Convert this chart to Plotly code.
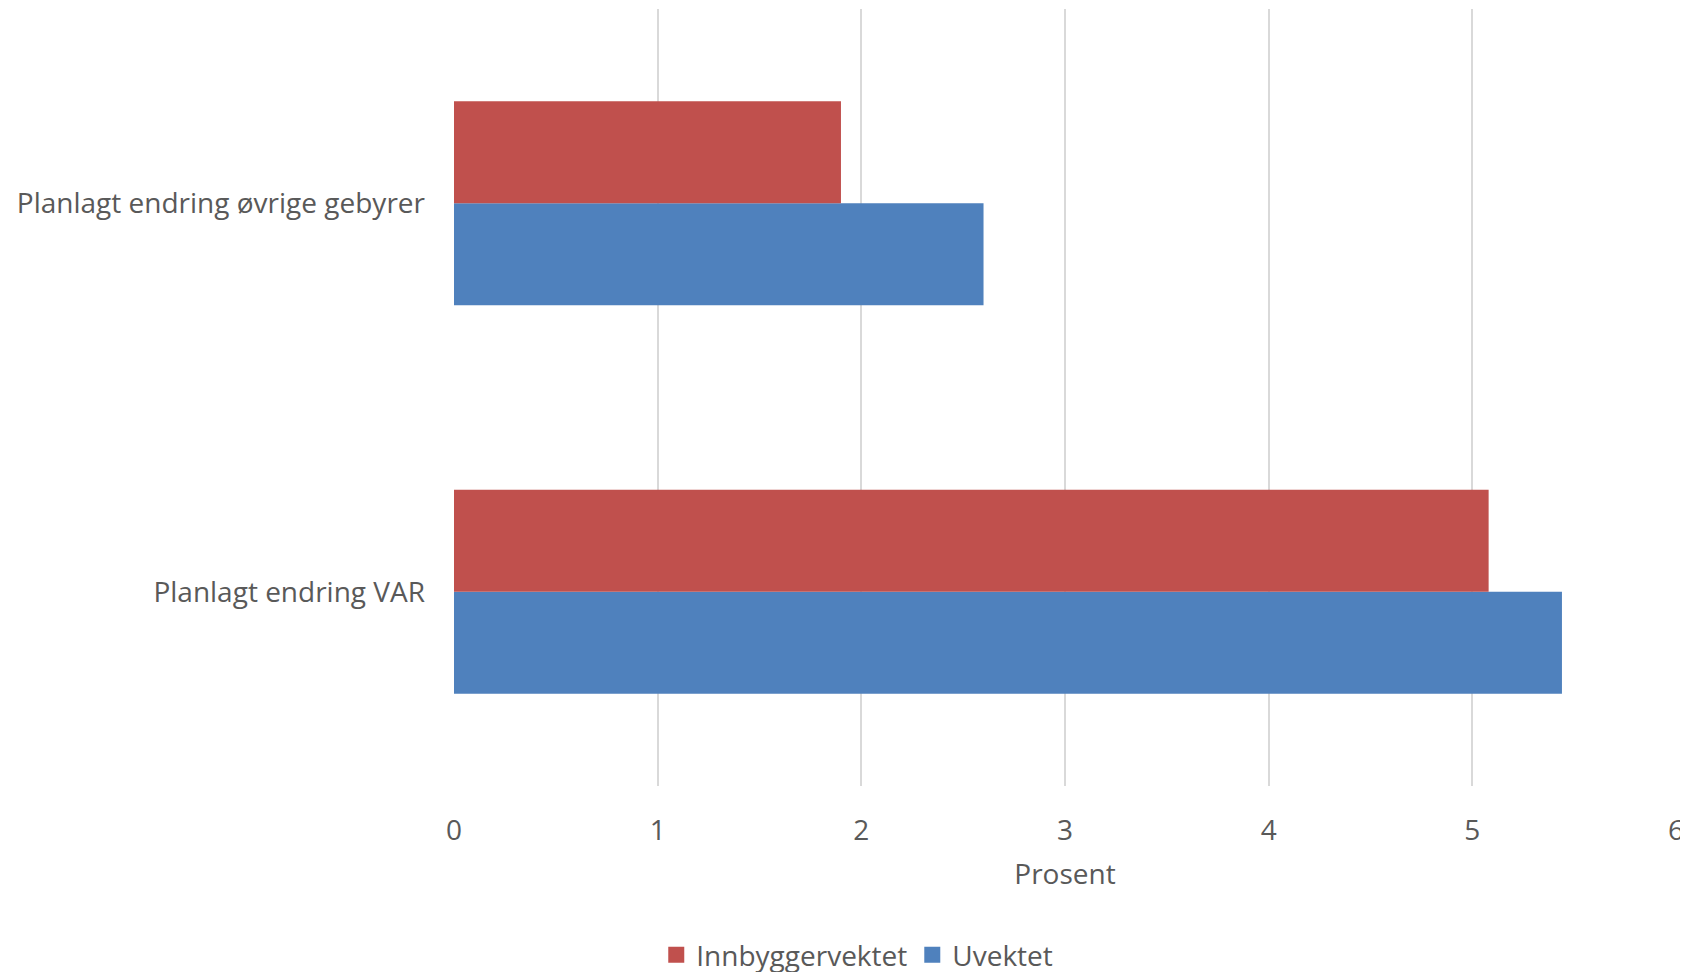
import plotly.graph_objects as go

categories = ["Planlagt endring VAR", "Planlagt endring øvrige gebyrer"]
uvektet = [5.44, 2.6]
innbyggervektet = [5.08, 1.9]
x_ticks = [0, 1, 2, 3, 4, 5, 6]

FONT = "Open Sans"
GREY = "#595959"
BLUE = "#4F81BD"
RED = "#C0504D"

fig = go.Figure()
fig.add_trace(go.Bar(y=categories, x=uvektet, name="Uvektet", orientation="h",
                     marker=dict(color=BLUE, line=dict(width=0)), showlegend=False))
fig.add_trace(go.Bar(y=categories, x=innbyggervektet, name="Innbyggervektet", orientation="h",
                     marker=dict(color=RED, line=dict(width=0)), showlegend=False))
# legend entries (square markers like the reference)
fig.add_trace(go.Scatter(x=[None], y=[None], mode="markers", name="Innbyggervektet",
                         marker=dict(symbol="square", size=16, color=RED)))
fig.add_trace(go.Scatter(x=[None], y=[None], mode="markers", name="Uvektet",
                         marker=dict(symbol="square", size=16, color=BLUE)))

# page body has an 8px default margin, so the figure is sized 1680x964
fig.update_layout(
    width=1680, height=964,
    margin=dict(l=446, r=12, t=1, b=186, autoexpand=False),
    paper_bgcolor="white", plot_bgcolor="white",
    barmode="group", bargap=0.475, bargroupgap=0,
    font=dict(family=FONT, size=28, color=GREY),
    showlegend=True,
    legend=dict(orientation="h", traceorder="normal", x=0.33, xanchor="center",
                y=-0.2175, yanchor="middle", font=dict(size=28, color=GREY),
                itemwidth=30, tracegroupgap=0),
    xaxis=dict(range=[0, 6], tickvals=x_ticks, showgrid=True, gridcolor="#d9d9d9",
               gridwidth=1.5, zeroline=False, showline=False, automargin=False,
               ticklabelstandoff=25,
               title=dict(text="Prosent", standoff=17, font=dict(size=28, color=GREY))),
    yaxis=dict(categoryorder="array", categoryarray=categories, showgrid=False,
               zeroline=False, showline=False, automargin=False, ticklabelstandoff=28),
)

fig.write_html("out.html")
